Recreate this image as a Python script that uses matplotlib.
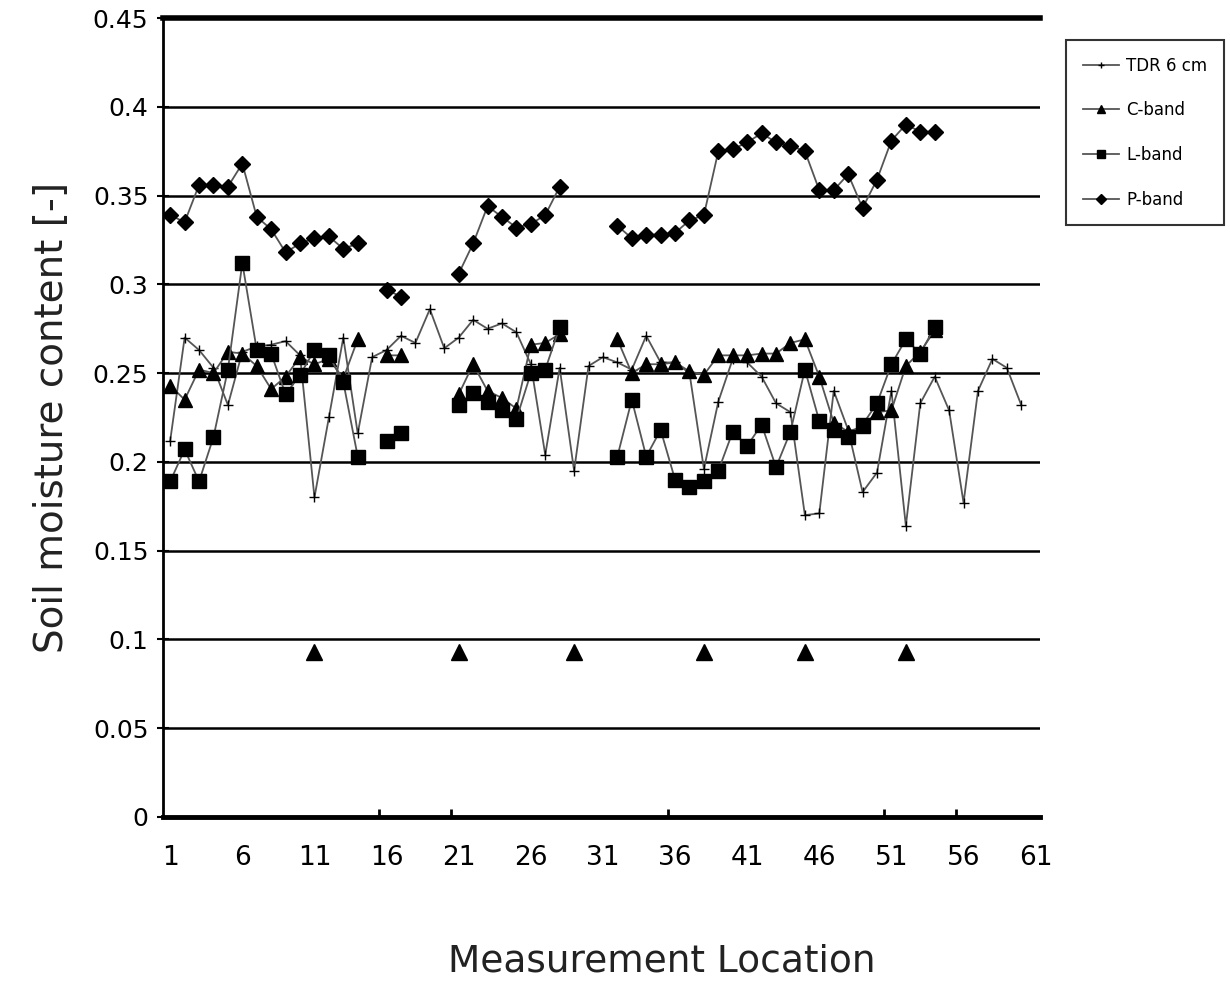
import matplotlib
matplotlib.use('Agg')
import matplotlib.pyplot as plt
import numpy as np

nan = np.nan

# Measurement locations
location = np.arange(1, 61)

# TDR 6 cm (ground truth, every location)
tdr_6cm = [0.212, 0.270, 0.263, 0.253, 0.232, 0.262, 0.265, 0.266, 0.268, 0.260,
           0.180, 0.225, 0.270, 0.216, 0.259, 0.263, 0.271, 0.267, 0.286, 0.264,
           0.270, 0.280, 0.275, 0.278, 0.273, 0.255, 0.204, 0.253, 0.195, 0.254,
           0.259, 0.256, 0.252, 0.271, 0.256, 0.256, 0.250, 0.196, 0.234, 0.258,
           0.256, 0.248, 0.233, 0.228, 0.170, 0.171, 0.240, 0.218, 0.183, 0.194,
           0.240, 0.164, 0.233, 0.248, 0.229, 0.177, 0.240, 0.258, 0.253, 0.232]

# radar retrievals (nan = no value)
c_band = [0.243, 0.235, 0.252, 0.250, 0.262, 0.261, 0.254, 0.241, 0.248, 0.259,
          0.255, 0.258, 0.247, 0.269, nan, 0.260, 0.260, nan, nan, nan,
          0.238, 0.255, 0.240, 0.236, 0.230, 0.266, 0.267, 0.272, nan, nan,
          nan, 0.269, 0.250, 0.255, 0.255, 0.256, 0.251, 0.249, 0.260, 0.260,
          0.260, 0.261, 0.261, 0.267, 0.269, 0.248, 0.222, 0.217, 0.220, 0.228,
          0.229, 0.254, 0.262, 0.274, nan, nan, nan, nan, nan, nan]

l_band = [0.189, 0.207, 0.189, 0.214, 0.252, 0.312, 0.263, 0.261, 0.238, 0.249,
          0.263, 0.260, 0.245, 0.203, nan, 0.212, 0.216, nan, nan, nan,
          0.232, 0.239, 0.234, 0.229, 0.224, 0.250, 0.252, 0.276, nan, nan,
          nan, 0.203, 0.235, 0.203, 0.218, 0.190, 0.186, 0.189, 0.195, 0.217,
          0.209, 0.221, 0.197, 0.217, 0.252, 0.223, 0.218, 0.214, 0.221, 0.233,
          0.255, 0.269, 0.261, 0.276, nan, nan, nan, nan, nan, nan]

p_band = [0.339, 0.335, 0.356, 0.356, 0.355, 0.368, 0.338, 0.331, 0.318, 0.323,
          0.326, 0.327, 0.320, 0.323, nan, 0.297, 0.293, nan, nan, nan,
          0.306, 0.323, 0.344, 0.338, 0.332, 0.334, 0.339, 0.355, nan, nan,
          nan, 0.333, 0.326, 0.328, 0.328, 0.329, 0.336, 0.339, 0.375, 0.376,
          0.380, 0.385, 0.380, 0.378, 0.375, 0.353, 0.353, 0.362, 0.343, 0.359,
          0.381, 0.390, 0.386, 0.386, nan, nan, nan, nan, nan, nan]

# loose C-band points near 0.09
c_extra_loc = [11, 21, 29, 38, 45, 52]
c_extra_val = [0.093, 0.093, 0.093, 0.093, 0.093, 0.093]

xtick_pos = list(range(1, 62, 5))
ytick_pos = [0, 0.05, 0.1, 0.15, 0.2, 0.25, 0.3, 0.35, 0.4, 0.45]
ytick_lab = ['0', '0.05', '0.1', '0.15', '0.2', '0.25', '0.3', '0.35', '0.4', '0.45']

plt.rcParams['font.family'] = ['DejaVu Sans']

fig = plt.figure(figsize=(12.3, 9.82), dpi=100)
ax = fig.add_axes([163 / 1230, 1 - 817 / 982, (1040 - 163) / 1230, (817 - 18) / 982])

line_col = '#555555'
ax.plot(location, tdr_6cm, color=line_col, lw=1.3, marker='+', ms=7, mec='black',
        mew=1.0, label='TDR 6 cm', zorder=4)
ax.plot(location, c_band, color=line_col, lw=1.3, marker='^', ms=10, mfc='black',
        mec='black', label='C-band', zorder=5)
ax.plot(location, l_band, color=line_col, lw=1.3, marker='s', ms=9.5, mfc='black',
        mec='black', label='L-band', zorder=5)
ax.plot(location, p_band, color=line_col, lw=1.3, marker='D', ms=8, mfc='black',
        mec='black', label='P-band', zorder=5)
ax.plot(c_extra_loc, c_extra_val, ls='none', marker='^', ms=12, mfc='black',
        mec='black', zorder=5)

ax.set_xlim(0.5, 61.3)
ax.set_ylim(0, 0.45)

for yv in ytick_pos[1:-1]:
    ax.axhline(yv, color='black', lw=1.8, zorder=1)

ax.spines['right'].set_visible(False)
ax.spines['top'].set_linewidth(4)
ax.spines['left'].set_linewidth(2)
ax.spines['bottom'].set_linewidth(3.5)

ax.set_yticks(ytick_pos)
ax.set_yticklabels(ytick_lab)
ax.set_xticks(xtick_pos)
ax.set_xticklabels([str(v) for v in xtick_pos])
ax.set_xticks([15.5, 20.5, 35.5, 50.5, 55.5], minor=True)
ax.tick_params(axis='y', direction='inout', length=9, width=1.5, labelsize=18, pad=6)
ax.tick_params(axis='x', which='major', length=0, labelsize=19, pad=20)
ax.tick_params(axis='x', which='minor', direction='in', length=6, width=2)

ax.set_ylabel('Soil moisture content [-]', fontsize=28, labelpad=16, color='#222222')
ax.set_xlabel('Measurement Location', fontsize=27, color='#222222')
ax.xaxis.set_label_coords((662 - 163) / 877, -(962 - 817) / 799, transform=ax.transAxes)
ax.xaxis.label.set_va('center')

leg = fig.legend(loc='upper left', bbox_to_anchor=(1066 / 1230, 1 - 40 / 982),
                 borderaxespad=0, fontsize=12, frameon=True, fancybox=False,
                 edgecolor='black', labelspacing=1.6, handlelength=2.2,
                 handletextpad=0.4, borderpad=1.0, markerscale=0.6)
leg.get_frame().set_linewidth(1.5)

fig.savefig('out.png', dpi=100)
